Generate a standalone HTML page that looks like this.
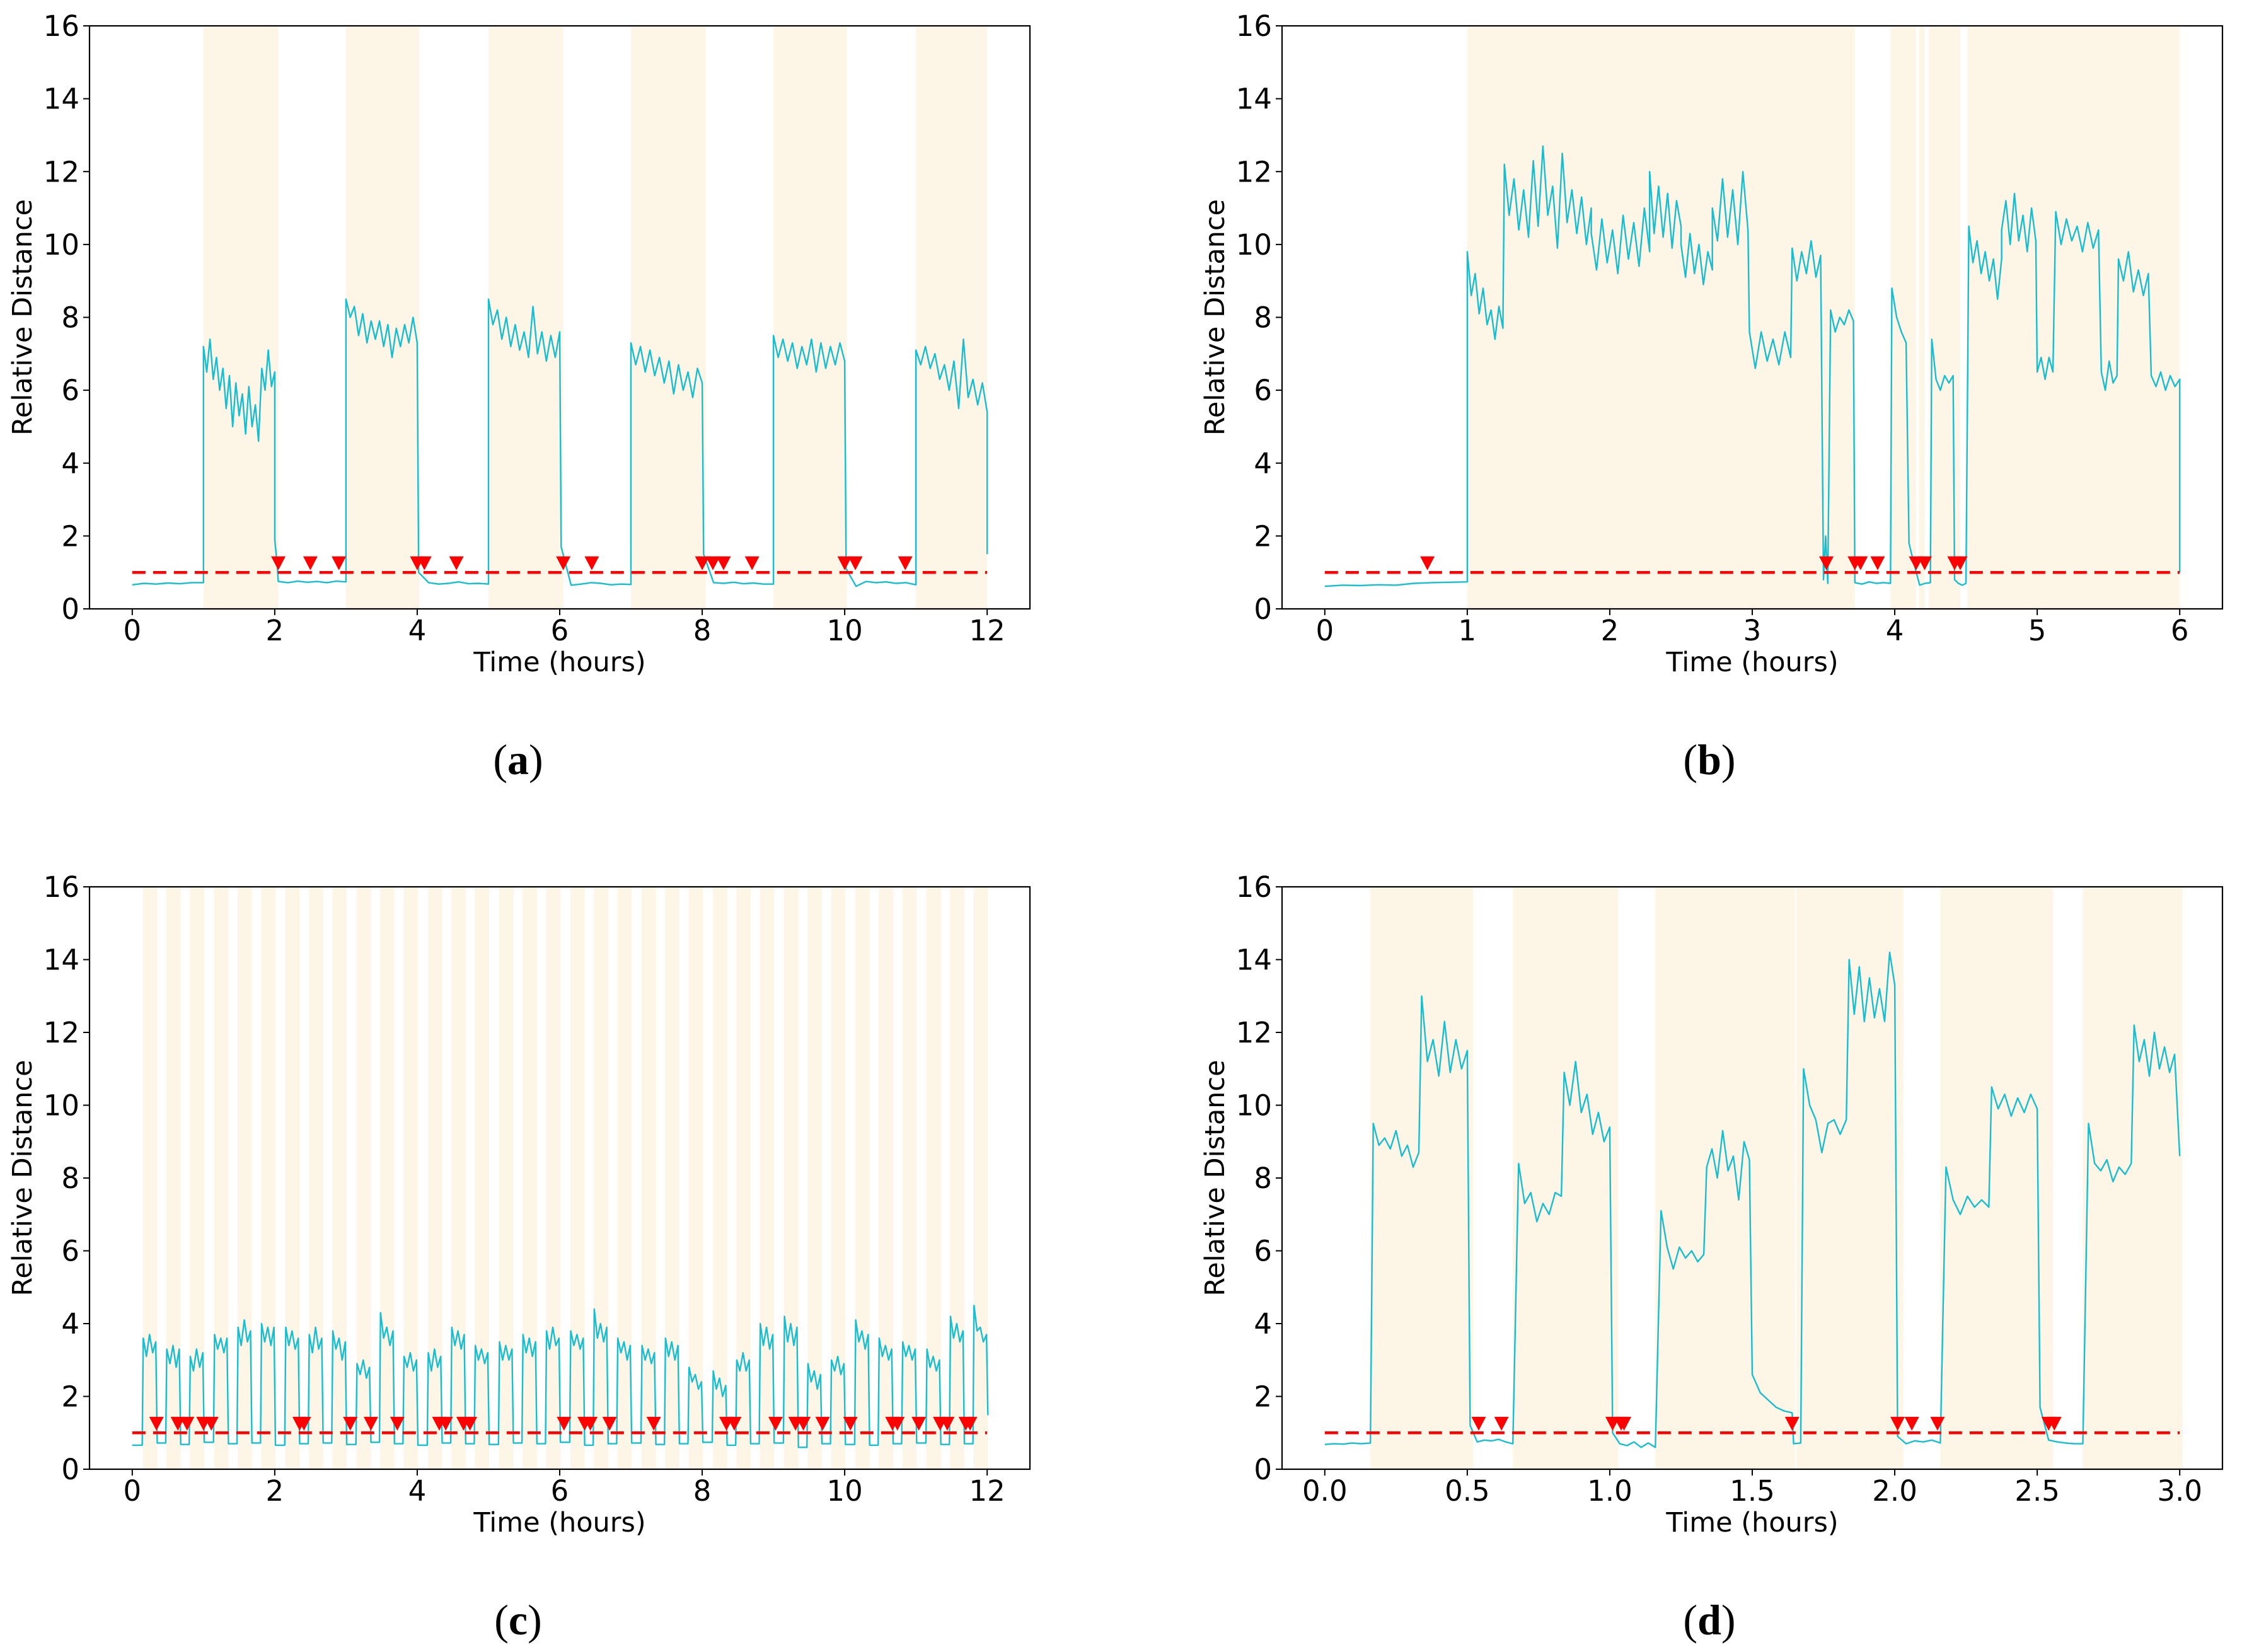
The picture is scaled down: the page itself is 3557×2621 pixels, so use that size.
<!DOCTYPE html>
<html><head><meta charset="utf-8">
<style>
html,body{margin:0;padding:0;background:#fff;}
svg{display:block;}
text{font-family:"DejaVu Sans","Liberation Sans",sans-serif;}
.cap{font-family:"Liberation Serif","DejaVu Serif",serif;}
</style></head>
<body>
<svg id="fig" width="3557" height="2621" viewBox="0 0 3557 2621" xmlns="http://www.w3.org/2000/svg">
<rect width="3557" height="2621" fill="#fff"/>
</svg>
<script>
// ---------- data: panel (a) ----------
const aShadeStart = [1.0, 3.0, 5.0, 7.0, 9.0, 11.0];
const aShadeEnd   = [2.05, 4.03, 6.05, 8.05, 10.03, 12.0];
const aMarkers = [2.05, 2.5, 2.9, 4.0, 4.1, 4.55, 6.05, 6.45, 8.0, 8.15, 8.3, 8.7, 10.0, 10.15, 10.85];
const aSegStart = [0, 1.0, 2.0, 2.05, 3.0, 4.02, 5.0, 6.02, 7.0, 8.02, 9.0, 10.02, 11.0, 12.0];
const aSegEnd   = [1.0, 2.0, 2.03, 3.0, 4.0, 5.0, 6.0, 7.0, 8.0, 9.0, 10.0, 11.0, 12.0, 12.0];
const aSegVals = [
 [0.66,0.7,0.68,0.71,0.69,0.72,0.72],
 [7.2,6.5,7.4,6.3,6.9,6.0,6.6,5.5,6.4,5.0,6.2,5.3,5.9,4.8,6.1,5.0,5.6,4.6,6.6,6.0,7.1,6.1,6.5],
 [1.9,1.3],
 [0.75,0.72,0.76,0.73,0.75,0.72,0.76,0.74],
 [8.5,8.0,8.3,7.5,8.1,7.3,7.9,7.4,7.9,7.2,7.8,6.9,7.7,7.2,7.8,7.3,8.0,7.3],
 [1.0,0.72,0.68,0.7,0.74,0.69,0.7,0.68],
 [8.5,7.8,8.2,7.4,8.0,7.2,7.8,7.1,7.6,6.9,8.3,7.0,7.6,6.8,7.5,6.9,7.6],
 [1.7,0.65,0.68,0.72,0.7,0.66,0.68,0.67],
 [7.3,6.7,7.2,6.5,7.1,6.4,6.9,6.2,6.8,5.9,6.7,6.0,6.5,5.8,6.6,6.2],
 [1.5,0.72,0.7,0.73,0.69,0.71,0.68,0.68],
 [7.5,6.9,7.4,6.8,7.3,6.6,7.2,6.7,7.4,6.5,7.3,6.6,7.2,6.7,7.3,6.8],
 [1.1,0.62,0.75,0.72,0.74,0.7,0.72,0.66],
 [7.1,6.7,7.2,6.6,7.0,6.3,6.7,6.0,6.8,5.5,7.4,5.8,6.3,5.6,6.2,5.4],
 [1.5]
];
// ---------- data: panel (b) ----------
const bShadeStart = [1.0, 3.97, 4.17, 4.24, 4.51];
const bShadeEnd   = [3.72, 4.15, 4.21, 4.46, 6.0];
const bMarkers = [0.72, 3.52, 3.72, 3.76, 3.88, 4.15, 4.21, 4.42, 4.46];
const bSegStart = [0, 1.0, 1.26, 1.87, 2.28, 2.5, 2.72, 2.98, 3.28, 3.5, 3.55, 3.72, 3.98, 4.1, 4.26, 4.42, 4.52, 4.75, 5.0, 5.13, 5.45, 5.57, 5.8, 6.0];
const bSegEnd   = [1.0, 1.25, 1.87, 2.28, 2.5, 2.72, 2.97, 3.27, 3.48, 3.53, 3.71, 3.97, 4.08, 4.25, 4.41, 4.5, 4.75, 4.99, 5.11, 5.43, 5.56, 5.78, 6.0, 6.0];
const bSegVals = [
 [0.62,0.65,0.64,0.66,0.65,0.7,0.72,0.73,0.74],
 [9.8,8.6,9.2,8.1,8.8,7.8,8.2,7.4,8.3,7.7],
 [12.2,10.8,11.8,10.4,11.5,10.2,12.3,10.5,12.7,10.8,11.6,9.9,12.5,10.6,11.5,10.3,11.3,10.0,11.0],
 [10.3,9.3,10.7,9.5,10.4,9.2,10.8,9.6,10.6,9.4,11.0,9.8],
 [12.0,10.3,11.6,10.2,11.4,9.9,11.2,10.5],
 [10.0,9.1,10.3,9.2,10.0,8.9,9.8,9.3],
 [11.0,10.1,11.8,10.2,11.5,10.0,12.0,10.4],
 [7.6,6.6,7.6,6.8,7.4,6.7,7.6,6.9],
 [9.9,9.0,9.8,9.2,10.1,9.1,9.7],
 [0.8,2.0,0.7],
 [8.2,7.6,8.0,7.8,8.2,7.9],
 [0.72,0.68,0.74,0.7,0.72,0.7],
 [8.8,8.0,7.6,7.3],
 [1.8,1.2,0.65,0.7,0.72],
 [7.4,6.3,6.0,6.4,6.2,6.4],
 [0.8,0.7,0.65,0.7],
 [10.5,9.5,10.1,9.2,9.8,9.0,9.6,8.5,9.6],
 [10.4,11.2,10.0,11.4,10.1,10.8,9.8,11.0,10.1],
 [6.5,6.9,6.3,6.9,6.5],
 [10.9,10.0,10.7,10.1,10.5,9.8,10.6,9.9,10.4],
 [6.5,6.0,6.8,6.2,6.4],
 [9.6,9.0,9.8,8.7,9.3,8.6,9.2],
 [6.4,6.1,6.5,6.0,6.4,6.1,6.3],
 [1.0]
];
// ---------- data: panel (c) ----------
const cShadeStart = [0.15,0.48,0.81,1.15,1.48,1.81,2.15,2.48,2.81,3.15,3.48,3.81,4.15,4.48,4.81,5.15,5.48,5.81,6.15,6.48,6.81,7.15,7.48,7.81,8.15,8.48,8.81,9.15,9.48,9.81,10.15,10.48,10.81,11.15,11.48,11.81];
const cShadeEnd   = [0.35,0.68,1.01,1.35,1.68,2.01,2.35,2.68,3.01,3.35,3.68,4.01,4.35,4.68,5.01,5.35,5.68,6.01,6.35,6.68,7.01,7.35,7.68,8.01,8.35,8.68,9.01,9.35,9.68,10.01,10.35,10.68,11.01,11.35,11.68,12.01];
const cBandVals = [
 [3.6,3.1,3.7,3.2,3.5],[3.3,2.9,3.4,2.8,3.3],[3.1,2.7,3.3,2.8,3.2],[3.7,3.3,3.6,3.2,3.6],
 [3.9,3.4,4.1,3.5,3.8],[4.0,3.5,3.9,3.4,3.9],[3.9,3.4,3.8,3.3,3.6],[3.7,3.2,3.9,3.3,3.6],
 [3.8,3.3,3.6,3.0,3.5],[2.9,2.6,3.0,2.5,2.8],[4.3,3.6,3.9,3.4,3.8],[3.1,2.8,3.2,2.7,3.0],
 [3.2,2.7,3.3,2.8,3.1],[3.9,3.4,3.8,3.3,3.7],[3.4,3.0,3.3,2.9,3.2],[3.5,3.0,3.4,3.0,3.3],
 [3.7,3.2,3.6,3.1,3.5],[3.8,3.3,3.9,3.4,3.6],[3.8,3.4,3.7,3.3,3.6],[4.4,3.6,4.0,3.5,3.9],
 [3.6,3.2,3.5,3.0,3.4],[3.4,3.0,3.3,2.9,3.2],[3.6,3.1,3.5,3.0,3.4],[2.8,2.4,2.6,2.2,2.4],
 [2.7,2.2,2.5,2.0,2.3],[3.0,2.7,3.2,2.7,3.0],[4.0,3.4,3.9,3.3,3.7],[4.2,3.5,4.0,3.4,3.9],
 [2.9,2.4,2.7,2.2,2.6],[3.0,2.7,3.1,2.6,2.9],[4.1,3.5,3.8,3.3,3.7],[3.6,3.1,3.4,3.0,3.3],
 [3.5,3.1,3.4,3.0,3.3],[3.3,2.8,3.1,2.7,3.0],[4.2,3.6,4.0,3.5,3.8],[4.5,3.8,3.9,3.5,3.7]
];
const cGapVals = [0.66,0.72,0.68,0.74,0.7,0.72,0.66,0.7,0.72,0.68,0.74,0.7,0.66,0.72,0.7,0.68,0.72,0.7,0.74,0.66,0.7,0.72,0.68,0.7,0.74,0.66,0.7,0.72,0.6,0.7,0.68,0.66,0.7,0.72,0.68,0.7,1.5];
const cMarkers = [0.34,0.64,0.77,1.0,1.11,2.35,2.41,3.06,3.35,3.72,4.31,4.40,4.65,4.74,6.06,6.35,6.43,6.70,7.32,8.34,8.45,9.03,9.31,9.42,9.69,10.08,10.67,10.74,11.04,11.34,11.44,11.70,11.76];
// ---------- data: panel (d) ----------
const dShadeStart = [0.16, 0.66, 1.16, 1.655, 2.16, 2.66];
const dShadeEnd   = [0.52, 1.03, 1.65, 2.03, 2.555, 3.01];
const dMarkers = [0.54, 0.62, 1.01, 1.04, 1.05, 1.64, 2.01, 2.06, 2.15, 2.54, 2.56];
const dSegStart = [0, 0.17, 0.34, 0.51, 0.68, 0.84, 1.01, 1.18, 1.34, 1.5, 1.645, 1.68, 1.84, 2.01, 2.18, 2.34, 2.51, 2.68, 2.84];
const dSegEnd   = [0.16, 0.33, 0.5, 0.66, 0.83, 1.0, 1.16, 1.33, 1.49, 1.64, 1.67, 1.83, 2.0, 2.16, 2.33, 2.5, 2.66, 2.83, 3.0];
const dSegVals = [
 [0.68,0.7,0.69,0.72,0.7,0.72],
 [9.5,8.9,9.1,8.8,9.3,8.6,8.9,8.3,8.7],
 [13.0,11.2,11.8,10.8,12.3,10.9,11.8,11.0,11.5],
 [1.2,0.75,0.8,0.78,0.82,0.75,0.7],
 [8.4,7.3,7.6,6.8,7.3,7.0,7.6,7.5],
 [10.9,10.0,11.2,9.8,10.3,9.2,9.8,9.0,9.4],
 [1.0,0.7,0.65,0.75,0.6,0.72,0.6],
 [7.1,6.1,5.5,6.1,5.8,6.0,5.7,5.9],
 [8.3,8.8,8.0,9.3,8.2,8.6,7.4,9.0,8.5],
 [2.6,2.1,1.9,1.7,1.6,1.55],
 [0.7,0.72],
 [11.0,10.0,9.6,8.7,9.5,9.6,9.2,9.6],
 [14.0,12.5,13.8,12.3,13.5,12.4,13.2,12.3,14.2,13.3],
 [0.9,0.7,0.78,0.75,0.8,0.72],
 [8.3,7.4,7.0,7.5,7.2,7.4,7.2],
 [10.5,9.9,10.3,9.7,10.2,9.8,10.3,9.9],
 [1.7,0.8,0.75,0.72,0.7,0.7],
 [9.5,8.4,8.2,8.5,7.9,8.3,8.1,8.4],
 [12.2,11.2,11.8,10.8,12.0,11.0,11.6,10.9,11.4,8.6]
];
const threshold = 1.0;
const markerY = 1.25;
const yTicks = [0,2,4,6,8,10,12,14,16];
const xTicks12 = [0,2,4,6,8,10,12];
const xTicks6 = [0,1,2,3,4,5,6];
const xTicks3 = [0,0.5,1.0,1.5,2.0,2.5,3.0];
const xTickLabels3 = ["0.0","0.5","1.0","1.5","2.0","2.5","3.0"];

const NS = "http://www.w3.org/2000/svg";
const fig = document.getElementById('fig');
function mk(tag, attrs, parent){
  const e = document.createElementNS(NS, tag);
  for (const k in attrs) e.setAttribute(k, attrs[k]);
  (parent||fig).appendChild(e);
  return e;
}

function segPoints(starts, ends, vals){
  const pts = [];
  for (let i=0;i<starts.length;i++){
    const v = vals[i], n = v.length;
    for (let k=0;k<n;k++){
      const t = n===1 ? starts[i] : starts[i] + (ends[i]-starts[i])*k/(n-1);
      pts.push([t, v[k]]);
    }
  }
  return pts;
}
function cPoints(){
  const pts = [];
  pts.push([0, cGapVals[0]]);
  for (let i=0;i<cShadeStart.length;i++){
    pts.push([cShadeStart[i]-0.01, cGapVals[i]]);
    const v = cBandVals[i], n=v.length;
    const s = cShadeStart[i]+0.005, e = cShadeEnd[i]-0.02;
    for (let k=0;k<n;k++) pts.push([s+(e-s)*k/(n-1), v[k]]);
    pts.push([cShadeEnd[i], cGapVals[i+1]]);
  }
  pts.push([12, cGapVals[cGapVals.length-1]]);
  return pts;
}

function panel(id, box, xmin, xmax, xt, xtl, shS, shE, pts, markers, cap, capX){
  const g = mk('g', {});
  
  
  const X = t => box.l + (t - xmin) / (xmax - xmin) * (box.r - box.l);
  const Y = v => box.b - v / 16 * (box.b - box.t);
  for (let i=0;i<shS.length;i++){
    const r = mk('rect', {x:X(shS[i]), y:box.t, width:X(shE[i])-X(shS[i]), height:box.b-box.t, fill:'#fdf5e6'}, g);
    
    
  }
  const line = mk('polyline', {points: pts.map(p=>X(p[0]).toFixed(1)+','+Y(p[1]).toFixed(1)).join(' '), fill:'none', stroke:'#17becf', 'stroke-width':2.4, 'stroke-linejoin':'round'}, g);
  
  
  const th = mk('line', {x1:X(0), x2:X(pts[pts.length-1][0]), y1:Y(threshold), y2:Y(threshold), stroke:'#ff0000', 'stroke-width':4.5, 'stroke-dasharray':'21 12'}, g);
  
  
  for (const m of markers){
    const cx = X(m), cy = Y(markerY);
    const tri = mk('polygon', {points:`${cx-11.5},${cy-11} ${cx+11.5},${cy-11} ${cx},${cy+11}`, fill:'#ff0000'}, g);
    
    
  }
  const fr = mk('rect', {x:box.l, y:box.t, width:box.r-box.l, height:box.b-box.t, fill:'none', stroke:'#000', 'stroke-width':2.2}, g);
  
  
  for (const v of yTicks){
    const y = Y(v);
    mk('line', {x1:box.l-10, x2:box.l, y1:y, y2:y, stroke:'#000', 'stroke-width':2}, g);
    const tx = mk('text', {x:box.l-16, y:y+16, 'text-anchor':'end', 'font-size':45, fill:'#000'}, g);
    
    
    tx.textContent = v;
  }
  for (let i=0;i<xt.length;i++){
    const x = X(xt[i]);
    mk('line', {x1:x, x2:x, y1:box.b, y2:box.b+10, stroke:'#000', 'stroke-width':2}, g);
    const tx = mk('text', {x:x, y:box.b+50, 'text-anchor':'middle', 'font-size':45, fill:'#000'}, g);
    
    
    tx.textContent = xtl ? xtl[i] : xt[i];
  }
  const xl = mk('text', {x:(box.l+box.r)/2, y:box.b+99, 'text-anchor':'middle', 'font-size':43, fill:'#000'}, g);
  
  
  xl.textContent = 'Time (hours)';
  const yx = box.l - 92, yc = (box.t+box.b)/2;
  const yl = mk('text', {x:yx, y:yc, 'text-anchor':'middle', 'font-size':43, fill:'#000', transform:`rotate(-90 ${yx} ${yc})`}, g);
  
  
  yl.textContent = 'Relative Distance';
  const c = mk('text', {x:capX, y:box.b+262, 'text-anchor':'middle', 'font-size':68, fill:'#000', class:'cap'}, g);
  
  
  const p1 = mk('tspan', {}, c); p1.textContent = '(';
  const p2 = mk('tspan', {'font-weight':'bold'}, c); p2.textContent = cap;
  const p3 = mk('tspan', {}, c); p3.textContent = ')';
}

const L = {l:142, r:1634}, R = {l:2034, r:3526};
const T = {t:41, b:966}, B = {t:1407, b:2331};
panel('a', {l:L.l, r:L.r, t:T.t, b:T.b}, -0.6, 12.6, xTicks12, null, aShadeStart, aShadeEnd, segPoints(aSegStart,aSegEnd,aSegVals), aMarkers, 'a', 822);
panel('b', {l:R.l, r:R.r, t:T.t, b:T.b}, -0.3, 6.3, xTicks6, null, bShadeStart, bShadeEnd, segPoints(bSegStart,bSegEnd,bSegVals), bMarkers, 'b', 2712);
panel('c', {l:L.l, r:L.r, t:B.t, b:B.b}, -0.6, 12.6, xTicks12, null, cShadeStart, cShadeEnd, cPoints(), cMarkers, 'c', 822);
panel('d', {l:R.l, r:R.r, t:B.t, b:B.b}, -0.15, 3.15, xTicks3, xTickLabels3, dShadeStart, dShadeEnd, segPoints(dSegStart,dSegEnd,dSegVals), dMarkers, 'd', 2712);
</script>
</body></html>
